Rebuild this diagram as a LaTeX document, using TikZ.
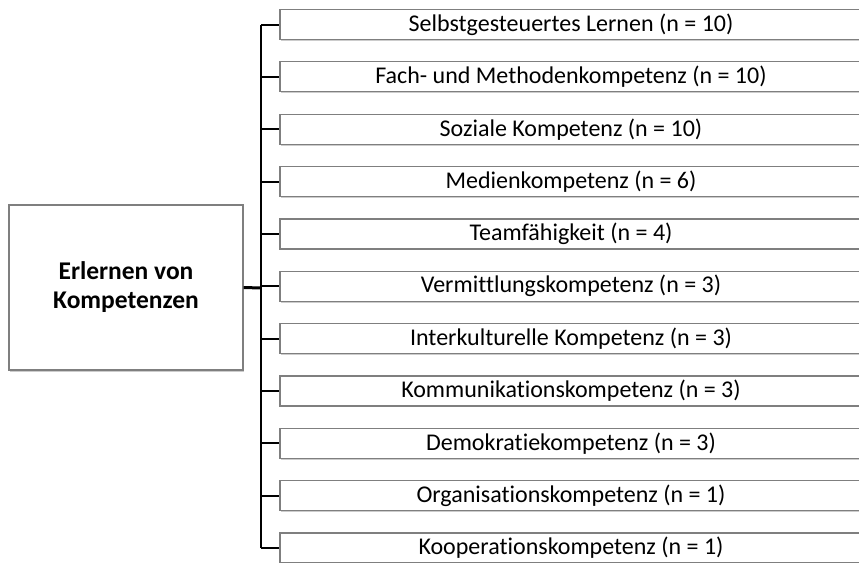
\documentclass[tikz,border=0pt]{standalone}
\usepackage{fontspec}
\setmainfont[Ligatures={NoCommon}]{Carlito}
\usepackage{xcolor}
\usetikzlibrary{shadows}
\definecolor{boxline}{HTML}{7F7F7F}
\tikzset{
  kbox/.style={draw=boxline,line width=1.2pt,fill=white,minimum width=582pt,minimum height=30pt,
    inner sep=0pt,font=\fontsize{24}{28}\selectfont,
    drop shadow={opacity=0.4,shadow xshift=1.2pt,shadow yshift=-1.5pt}},
  rootbox/.style={draw=boxline,line width=1.2pt,fill=white,minimum width=234pt,minimum height=165pt,
    align=center,font=\fontsize{25.5}{29}\selectfont\bfseries,
    drop shadow={opacity=0.4,shadow xshift=1.2pt,shadow yshift=-1.5pt}},
}
\begin{document}
\begin{tikzpicture}[x=1pt,y=-1pt]
\useasboundingbox (0,0) rectangle (859,562);
\clip (0,0) rectangle (859,562);
\node[rootbox](root) at (126,287.5){Erlernen von\\Kompetenzen};
\coordinate (j) at (261,288);
\foreach \i/\txt in {1/Selbstgesteuertes Lernen (n = 10),
  2/Fach- und Methodenkompetenz (n = 10),
  3/Soziale Kompetenz (n = 10),
  4/Medienkompetenz (n = 6),
  5/Teamfähigkeit (n = 4),
  6/Vermittlungskompetenz (n = 3),
  7/Interkulturelle Kompetenz (n = 3),
  8/Kommunikationskompetenz (n = 3),
  9/Demokratiekompetenz (n = 3),
  10/Organisationskompetenz (n = 1),
  11/Kooperationskompetenz (n = 1)}
  \node[kbox](k\i) at (571,{24.5+(\i-1)*52.35}){\txt};
% Verbindungen
\draw[line width=3pt](root.east)--(j);
\draw[line width=2pt](j|-k1.west)--(j|-k11.west);
\foreach \i in {1,...,11}
  \draw[line width=2pt](j|-k\i.west)--(k\i.west);
\end{tikzpicture}
\end{document}
